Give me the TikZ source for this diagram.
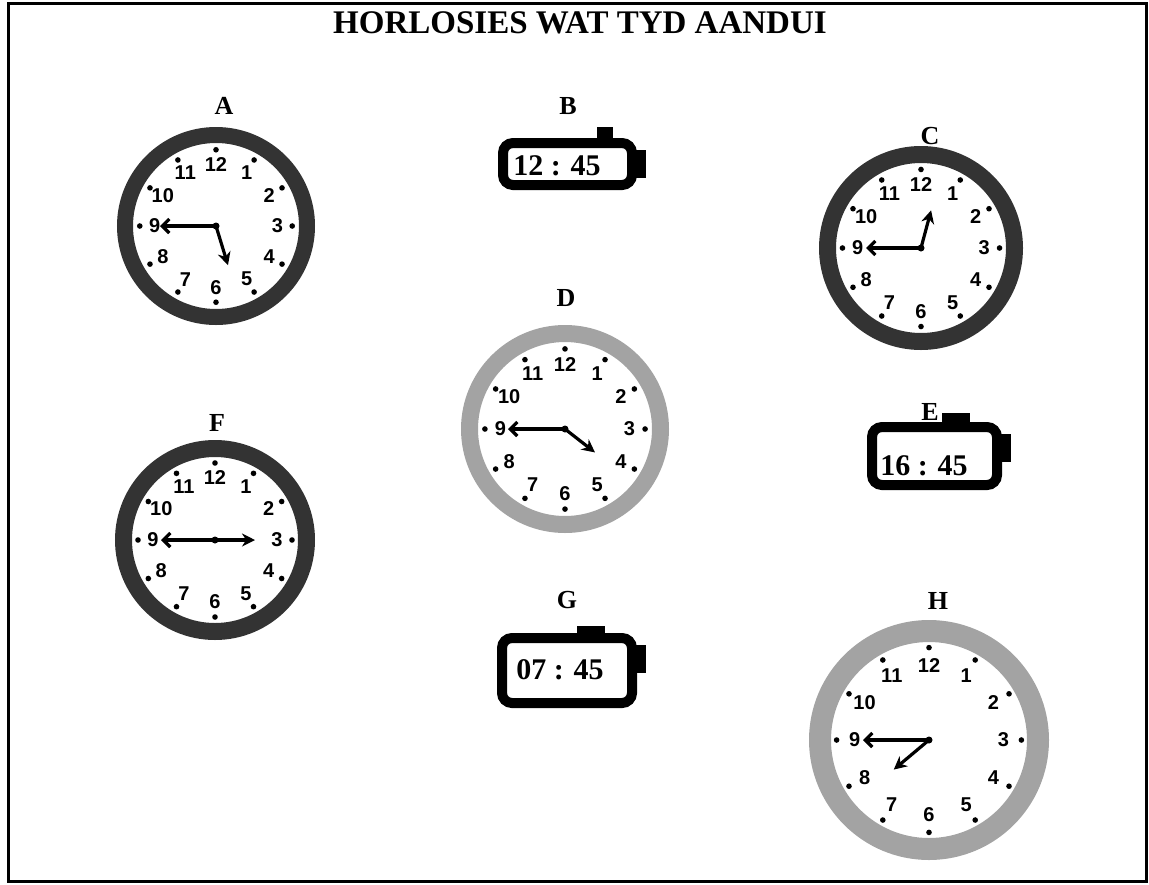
\documentclass[tikz,border=0pt]{standalone}
\usepackage{fontspec}
\setmainfont{Liberation Serif}
\newfontfamily\dialfont{Liberation Sans}
\usetikzlibrary{arrows.meta}
\definecolor{ringdark}{HTML}{333333}
\definecolor{ringgray}{HTML}{A3A3A3}
\tikzset{
	clocklabel/.style={font=\fontsize{26}{26}\selectfont\bfseries, inner sep=0},
	dialnum/.style={font=\dialfont\fontsize{20}{20}\selectfont\bfseries, inner sep=0},
	timetext/.style={font=\fontsize{30}{30}\selectfont\bfseries, inner sep=0},
	lcdbox/.style={draw, line width=10pt, rounded corners=10pt, inner sep=0},
	minhand/.style={line width=3.2pt, -{Straight Barb[length=7pt,width=14pt]}},
	hrhand/.style={line width=3.2pt, -{Stealth[length=13pt,width=13pt]}},
}
\begin{document}
\begin{tikzpicture}[x=1pt,y=1pt]
			\useasboundingbox (0,0) rectangle (1149,-884);
			\draw [line width=3pt] (8,-3) rectangle (1146,-881);
			\node[font=\fontsize{33}{33}\selectfont\bfseries] (title) at (580,-23) {HORLOSIES WAT TYD AANDUI};
			% analoog
			\coordinate (A) at (216,-226);
			\coordinate (C) at (921,-248);
			\coordinate (D) at (565,-429);
			\coordinate (F) at (215,-540);
			\coordinate (H) at (929,-740);
			\foreach \cname/\rad/\wid/\col in {A/99/16/ringdark, C/102/17/ringdark, D/104/17/ringgray, F/100/17/ringdark, H/120/22/ringgray} {
				\draw [line width=\wid, \col] (\cname) circle ({\rad-\wid/2});
				\foreach \h in {1,...,12} {
					\node[dialnum] (\cname-\h) at ([shift={(90-30*\h:0.62*\rad)}]\cname) {\h};
					\fill ([shift={(90-30*\h:0.77*\rad)}]\cname) circle (2.8);
				}
			}
			\coordinate (A-m) at ([shift={(180:56)}]A);
			\coordinate (A-h) at ([shift={(-73:41)}]A);
			\coordinate (C-m) at ([shift={(180:55)}]C);
			\coordinate (C-h) at ([shift={(75:39)}]C);
			\coordinate (D-m) at ([shift={(180:57)}]D);
			\coordinate (D-h) at ([shift={(-38:38)}]D);
			\coordinate (F-m) at ([shift={(180:54)}]F);
			\coordinate (F-h) at ([shift={(0:40)}]F);
			\coordinate (H-m) at ([shift={(180:66)}]H);
			\coordinate (H-h) at ([shift={(220:46)}]H);
			\foreach \cname in {A,C,D,F,H} {
				\draw [minhand] (\cname) to (\cname-m);
				\draw [hrhand] (\cname) to (\cname-h);
				\fill (\cname) circle (3.5);
			}
			% digitaal
			\node[lcdbox, minimum width=129pt, minimum height=42pt] (B) at (567.5,-164) {};
			\node[lcdbox, minimum width=125pt, minimum height=58pt] (E) at (934.5,-456) {};
			\node[lcdbox, minimum width=130pt, minimum height=65pt] (G) at (567,-670.5) {};
			\fill ([shift={(-40,-4)}]B.north east) rectangle ([shift={(-24,11)}]B.north east);
			\fill ([shift={(-60,-4)}]E.north east) rectangle ([shift={(-32,9)}]E.north east);
			\fill ([shift={(-60,-4)}]G.north east) rectangle ([shift={(-32,7)}]G.north east);
			\foreach \cname in {B,E,G}
				\fill ([shift={(-4,-12)}]\cname.north east) rectangle ([shift={(9,-40)}]\cname.north east);
			\node[timetext] (B-time) at (557,-166) {12 : 45};
			\node[timetext] (E-time) at (924,-466) {16 : 45};
			\node[timetext] (G-time) at (560,-670) {07 : 45};
			% letters
			\node[clocklabel] (lblA) at (224,-106) {A};
			\node[clocklabel] (lblB) at (568,-106) {B};
			\node[clocklabel] (lblC) at (930,-136) {C};
			\node[clocklabel] (lblD) at (566,-298) {D};
			\node[clocklabel] (lblE) at (930,-412) {E};
			\node[clocklabel] (lblF) at (217,-423) {F};
			\node[clocklabel] (lblG) at (567,-600) {G};
			\node[clocklabel] (lblH) at (938,-601) {H};
		\end{tikzpicture}
\end{document}
